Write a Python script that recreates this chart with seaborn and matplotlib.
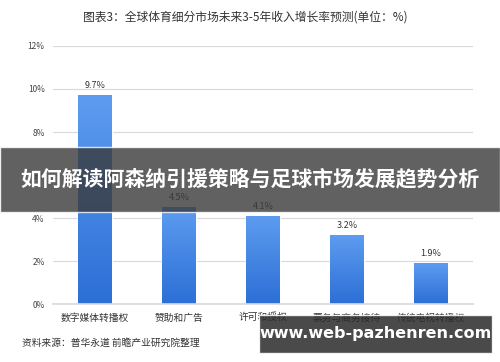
import matplotlib
matplotlib.use("Agg")
import matplotlib.pyplot as plt
import seaborn as sns
import numpy as np
import pandas as pd
from matplotlib.colors import LinearSegmentedColormap

categories = ["数字媒体转播权", "赞助和广告", "许可和授权", "票务与商务接待", "传统电视转播权"]
values = [9.7, 4.5, 4.1, 3.2, 1.9]
value_labels = ["9.7%", "4.5%", "4.1%", "3.2%", "1.9%"]
yticks = [0, 2, 4, 6, 8, 10, 12]
ytick_labels = ["0%", "2%", "4%", "6%", "8%", "10%", "12%"]
title = "图表3：全球体育细分市场未来3-5年收入增长率预测(单位：%)"
source = "资料来源：普华永道 前瞻产业研究院整理"
banner = "如何解读阿森纳引援策略与足球市场发展趋势分析"
site = "www.web-pazhenren.com"

sns.set_theme(style="white")
plt.rcParams['font.family'] = ['Noto Sans CJK SC', 'DejaVu Sans']

df = pd.DataFrame({"cat": categories, "val": values})

fig = plt.figure(figsize=(5, 3.62), dpi=100)
ax = fig.add_axes([0.106, 0.160, 0.840, 0.713])
sns.barplot(data=df, x="cat", y="val", ax=ax, color="#3b82e4", width=0.4, saturation=1)

grad = np.linspace(0, 1, 256).reshape(-1, 1)
cmap = LinearSegmentedColormap.from_list("g", ["#2c6fd6", "#5d9cf0"])
for p in list(ax.patches):
    x0, y0 = p.get_x(), p.get_y()
    w, h = p.get_width(), p.get_height()
    im = ax.imshow(grad, extent=[x0, x0 + w, y0, y0 + h], origin="lower",
                   cmap=cmap, aspect="auto", zorder=p.get_zorder() + 0.1)
    im.set_clip_path(p)

for i, (v, lab) in enumerate(zip(values, value_labels)):
    ax.text(i, v + 0.25, lab, ha="center", va="bottom", fontsize=6.5, color="#333333")

ax.set_xlim(-0.5, 4.5)
ax.set_ylim(0, 12)
ax.set_yticks(yticks)
ax.set_yticklabels(ytick_labels, fontsize=6, color="#444444")
ax.set_xticks(range(len(categories)))
ax.set_xticklabels(categories, fontsize=7, color="#333333")
ax.tick_params(axis="both", length=0, pad=6)
ax.yaxis.grid(True, color="#d9d9d9", linewidth=0.8)
ax.set_axisbelow(True)
ax.set_xlabel("")
ax.set_ylabel("")
for s in ["top", "right", "left"]:
    ax.spines[s].set_visible(False)
ax.spines["bottom"].set_color("#d9d9d9")

fig.text(0.49, 0.953, title, ha="center", va="center", fontsize=8.5, color="#333333")
fig.text(0.044, 0.052, source, ha="left", va="center", fontsize=7, color="#333333")

fig.patches.append(plt.Rectangle((0, 0.415), 1, 0.18, transform=fig.transFigure,
                                 facecolor="#3a3a3a", alpha=0.8, zorder=10))
fig.text(0.5, 0.505, banner, ha="center", va="center", fontsize=15,
         fontweight="bold", color="white", zorder=11)

fig.patches.append(plt.Rectangle((0.518, 0.025), 0.466, 0.105, transform=fig.transFigure,
                                 facecolor="#2a2a2a", alpha=0.85, zorder=10))
fig.text(0.751, 0.078, site, ha="center", va="center", fontsize=11.5,
         fontweight="bold", color="white", zorder=11,
         family=["DejaVu Sans"])

fig.savefig("out.png", dpi=100)
